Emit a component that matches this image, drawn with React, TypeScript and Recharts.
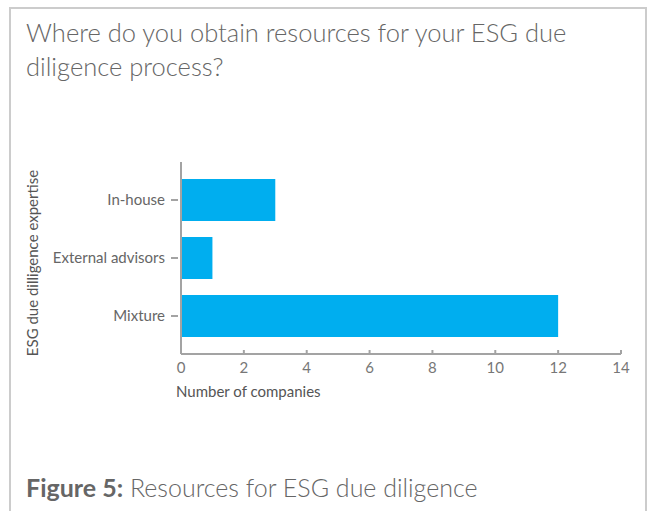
import React from 'react'
import { BarChart, Bar, XAxis, YAxis } from 'recharts'

// values
const categories = ['In-house', 'External advisors', 'Mixture']
const companies = [3, 1, 12]
const xTicks = [0, 2, 4, 6, 8, 10, 12, 14]

const data = categories.map((c, i) => ({ category: c, value: companies[i] }))

const FONT = 'Lato, "Open Sans", sans-serif'
const AXIS = '#a3a3a3'

const YTick = (props: any) => {
	const { x, y, payload } = props
	return (
		<g>
			<line x1={x - 10} x2={x - 3} y1={y} y2={y} stroke={AXIS} strokeWidth={2} />
			<text x={x - 16} y={y} dy={5} textAnchor="end" fontSize={15} fill="#666" fontFamily={FONT}>
				{payload.value}
			</text>
		</g>
	)
}

const XTick = (props: any) => {
	const { x, y, payload } = props
	return (
		<g>
			<line x1={x} x2={x} y1={y - 4} y2={y} stroke={AXIS} strokeWidth={2} />
			<text x={x} y={y + 19} textAnchor="middle" fontSize={15} fill="#777" fontFamily={FONT}>
				{payload.value}
			</text>
		</g>
	)
}

export default function App() {
	return (
		<div
			style={{
				position: 'absolute',
				left: 0,
				top: 0,
				width: 648,
				height: 511,
				background: '#fff',
				overflow: 'hidden',
				fontFamily: FONT,
			}}
		>
			{/* frame, open at the bottom */}
			<div
				style={{
					position: 'absolute',
					left: 9,
					top: 7,
					width: 634,
					height: 520,
					border: '2px solid #cccccc',
				}}
			/>

			<div
				style={{
					position: 'absolute',
					left: 26,
					top: 15,
					width: 600,
					fontSize: 25.5,
					lineHeight: '34px',
					color: '#666',
					fontWeight: 300,
				}}
			>
				Where do you obtain resources for your ESG due diligence process?
			</div>

			<div style={{ position: 'absolute', left: 0, top: 0 }}>
				<BarChart
					width={648}
					height={380}
					data={data}
					layout="vertical"
					margin={{ top: 162, right: 27, left: 0, bottom: 0 }}
					barCategoryGap={8}
				>
					<XAxis
						type="number"
						domain={[0, 14]}
						ticks={xTicks}
						interval={0}
						height={26}
						axisLine={{ stroke: AXIS, strokeWidth: 2 }}
						tickLine={false}
						tickSize={0}
						tickMargin={0}
						tick={<XTick />}
					/>
					<YAxis
						type="category"
						dataKey="category"
						width={181}
						padding={{ top: 9, bottom: 9 }}
						axisLine={{ stroke: AXIS, strokeWidth: 2 }}
						tickLine={false}
						tickSize={0}
						tickMargin={0}
						tick={<YTick />}
					/>
					<Bar dataKey="value" fill="#00aeef" isAnimationActive={false} />
				</BarChart>
			</div>

			<div
				style={{
					position: 'absolute',
					left: 32,
					top: 263,
					transform: 'translate(-50%, -50%) rotate(-90deg)',
					whiteSpace: 'nowrap',
					fontSize: 15,
					color: '#555',
				}}
			>
				ESG due dilligence expertise
			</div>

			<div
				style={{
					position: 'absolute',
					left: 176,
					top: 382,
					fontSize: 15,
					color: '#555',
				}}
			>
				Number of companies
			</div>

			<div
				style={{
					position: 'absolute',
					left: 26,
					top: 472,
					fontSize: 25,
					color: '#666',
					fontWeight: 300,
				}}
			>
				<span style={{ fontWeight: 700 }}>Figure 5:</span> Resources for ESG due diligence
			</div>
		</div>
	)
}
